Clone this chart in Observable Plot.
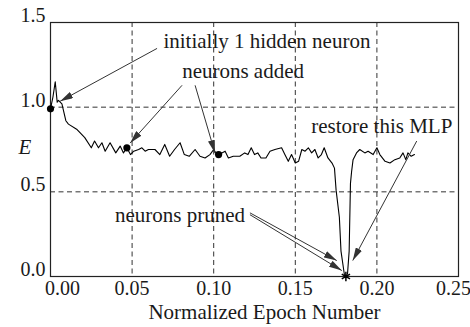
<!DOCTYPE html>
<html><head><meta charset="utf-8">
<script src="https://cdn.jsdelivr.net/npm/d3@7"></script>
<script src="https://cdn.jsdelivr.net/npm/@observablehq/plot@0.6"></script>
<style>
html,body{margin:0;padding:0;background:#fff;}
#chart svg{display:block;}
#chart svg text{font-family:"Liberation Serif","Times New Roman",serif !important;}
</style></head><body><div id="chart"></div>
<script>
// Training error curve
const epoch = [0, 0.0015, 0.0029, 0.0041, 0.0049, 0.007, 0.0094, 0.011, 0.016, 0.021, 0.025, 0.027, 0.0294, 0.0315, 0.0335, 0.0365, 0.040, 0.0427, 0.0447, 0.0468, 0.049, 0.051, 0.054, 0.056, 0.058, 0.060, 0.064, 0.067, 0.070, 0.073, 0.076, 0.0794, 0.082, 0.085, 0.0886, 0.0916, 0.0947, 0.0977, 0.100, 0.102, 0.105, 0.107, 0.109, 0.112, 0.116, 0.119, 0.121, 0.123, 0.125, 0.127, 0.129, 0.132, 0.1345, 0.1375, 0.1416, 0.1436, 0.1457, 0.1477, 0.150, 0.152, 0.154, 0.156, 0.158, 0.160, 0.162, 0.164, 0.166, 0.1677, 0.170, 0.1725, 0.174, 0.175, 0.177, 0.178, 0.180, 0.181, 0.182, 0.183, 0.1834, 0.1838, 0.1845, 0.1854, 0.1875, 0.1895, 0.1926, 0.1946, 0.1977, 0.200, 0.2018, 0.205, 0.208, 0.211, 0.214, 0.216, 0.2177, 0.219, 0.221, 0.223];
const errorE = [0.99, 1.06, 1.15, 1.03, 1.04, 1.02, 0.92, 0.90, 0.87, 0.82, 0.76, 0.80, 0.76, 0.79, 0.74, 0.79, 0.73, 0.77, 0.73, 0.76, 0.72, 0.74, 0.75, 0.76, 0.74, 0.75, 0.75, 0.72, 0.78, 0.71, 0.75, 0.79, 0.72, 0.71, 0.75, 0.71, 0.70, 0.72, 0.75, 0.72, 0.73, 0.74, 0.70, 0.71, 0.71, 0.73, 0.72, 0.76, 0.72, 0.73, 0.70, 0.70, 0.74, 0.75, 0.76, 0.72, 0.68, 0.72, 0.67, 0.68, 0.75, 0.74, 0.76, 0.73, 0.75, 0.70, 0.72, 0.76, 0.70, 0.67, 0.64, 0.51, 0.35, 0.15, 0.016, 0.0, 0.016, 0.15, 0.35, 0.55, 0.62, 0.69, 0.73, 0.75, 0.73, 0.74, 0.72, 0.76, 0.72, 0.68, 0.67, 0.69, 0.70, 0.73, 0.69, 0.73, 0.71, 0.72];

// Axes
const xTickValues = [0, 0.05, 0.10, 0.15, 0.20, 0.25];
const xTickLabels = ["0.00", "0.05", "0.10", "0.15", "0.20", "0.25"];
const yTickValues = [0, 0.5, 1.0, 1.5];
const yTickLabels = ["0.0", "0.5", "1.0", "1.5"];
const xGrid = [0.05, 0.10, 0.15, 0.20];
const yGrid = [0.5, 1.0];
const xTitle = "Normalized Epoch Number";
const yTitle = "E";

// Event markers
const markerEpoch = [0, 0.0468, 0.103];
const markerE = [0.99, 0.76, 0.72];
const restoreEpoch = [0.181];
const restoreE = [0.0];

// Annotations
const noteText = ["initially 1 hidden neuron", "neurons added", "restore this MLP", "neurons pruned"];
const noteX = [0.1326, 0.118, 0.203, 0.0794];
const noteY = [1.388, 1.212, 0.888, 0.359];
const arrowX1 = [0.0653, 0.0806, 0.0886, 0.2244, 0.1222, 0.1222];
const arrowY1 = [1.347, 1.129, 1.129, 0.800, 0.376, 0.365];
const arrowX2 = [0.0059, 0.0488, 0.1008, 0.1852, 0.1754, 0.1785];
const arrowY2 = [1.035, 0.788, 0.729, 0.094, 0.094, 0.035];

const curve = epoch.map((x, i) => ({x, y: errorE[i]}));
const arrows = arrowX1.map((x1, i) => ({x1, y1: arrowY1[i], x2: arrowX2[i], y2: arrowY2[i]}));
const idx = (a) => a.map((_, i) => i);

function headMarker(color) {
  const ns = "http://www.w3.org/2000/svg";
  const m = document.createElementNS(ns, "marker");
  m.setAttribute("viewBox", "0 -3.5 13 7");
  m.setAttribute("refX", "13");
  m.setAttribute("refY", "0");
  m.setAttribute("markerWidth", "13");
  m.setAttribute("markerHeight", "7");
  m.setAttribute("markerUnits", "userSpaceOnUse");
  m.setAttribute("orient", "auto");
  const p = document.createElementNS(ns, "path");
  p.setAttribute("d", "M0,-3.5L13,0L0,3.5Z");
  p.setAttribute("fill", color);
  p.setAttribute("stroke", "none");
  m.appendChild(p);
  return m;
}

const ink = "#1a1a1a";
const font = "Liberation Serif";

function build(markerEnd) {
  return Plot.plot({
    width: 470,
    height: 327,
    marginLeft: 50,
    marginRight: 12,
    marginTop: 22,
    marginBottom: 51,
    x: {domain: [0, 0.25], axis: null},
    y: {domain: [0, 1.5], axis: null},
    style: {fontFamily: font, fontSize: "20px", background: "#fff", color: ink},
    marks: [
      Plot.ruleX(xGrid, {stroke: "#333", strokeDasharray: "5,3.5", strokeWidth: 1}),
      Plot.ruleY(yGrid, {stroke: "#333", strokeDasharray: "5,3.5", strokeWidth: 1}),
      Plot.frame({stroke: "#222", strokeWidth: 1.2}),
      Plot.line(curve, {x: "x", y: "y", stroke: "#000", strokeWidth: 1.1}),
      Plot.dot(idx(markerEpoch), {x: i => markerEpoch[i], y: i => markerE[i], r: 3.6, fill: "#000", stroke: "none"}),
      Plot.dot(idx(restoreEpoch), {x: i => restoreEpoch[i], y: i => restoreE[i], symbol: "asterisk", r: 4.5, stroke: "#000", strokeWidth: 1.5}),
      Plot.link(arrows, {x1: "x1", y1: "y1", x2: "x2", y2: "y2", stroke: "#333", strokeWidth: 1, markerEnd}),
      Plot.text(idx(noteText), {x: i => noteX[i], y: i => noteY[i], text: i => noteText[i], fontFamily: font, fontSize: 21, fill: ink, lineAnchor: "middle"}),
      // x tick labels
      Plot.text([0], {x: i => xTickValues[i], y: 0, text: i => xTickLabels[i], dx: 12, dy: 12, fill: ink, fontFamily: font, fontSize: 20, lineAnchor: "middle"}),
      Plot.text([1, 2, 3, 4], {x: i => xTickValues[i], y: 0, text: i => xTickLabels[i], dy: 12, fill: ink, fontFamily: font, fontSize: 20, lineAnchor: "middle"}),
      Plot.text([5], {x: i => xTickValues[i], y: 0, text: i => xTickLabels[i], dx: -5, dy: 12, fill: ink, fontFamily: font, fontSize: 20, lineAnchor: "middle"}),
      // y tick labels
      Plot.text(idx(yTickValues), {x: 0, y: i => yTickValues[i], text: i => yTickLabels[i], textAnchor: "end", dx: -5, dy: -7, fill: ink, fontFamily: font, fontSize: 20, lineAnchor: "middle"}),
      Plot.text([xTitle], {frameAnchor: "bottom", text: d => d, dx: 10, dy: 36, fill: ink, fontFamily: font, fontSize: 21, lineAnchor: "middle"}),
      Plot.text([yTitle], {frameAnchor: "left", text: d => d, dx: -32, dy: -2, fill: ink, fontFamily: font, fontSize: 21, fontStyle: "italic", lineAnchor: "middle"})
    ]
  });
}

let chart;
try { chart = build(headMarker); } catch (e) { chart = build("arrow"); }
document.getElementById("chart").appendChild(chart);
</script>
</body></html>
